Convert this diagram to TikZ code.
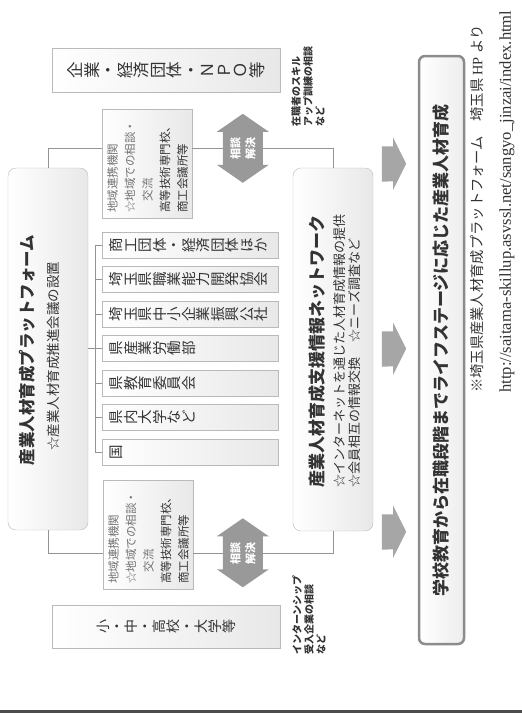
\documentclass[tikz,border=0pt]{standalone}
\usepackage{fontspec}
\usepackage{graphicx}
\setmainfont{Noto Sans CJK JP}
\newfontfamily\serifurl{Liberation Serif}
\newcommand\setfs[2]{\fontsize{#1}{#2}\selectfont}
\newcommand\tc[1]{\rotatebox[origin=c]{90}{\makebox[1em][c]{\rule[-0.12em]{0pt}{1em}#1}}}
\def\tateend{TATEEND}
\newcommand\tate[1]{\tateloop#1\tateend}
\def\tateloop#1{\ifx#1\tateend\else\tc{#1}\expandafter\tateloop\fi}
\begin{document}
\begin{tikzpicture}[x=1pt,y=-1pt,
  rot/.style={rotate=90, inner sep=0, text=black!80},
  gbox/.style={draw=black!27, left color=white, right color=black!9, inner sep=0},
  rbox/.style={gbox, rounded corners=8},
  conn/.style={draw=black!42, line width=0.8},
  stripbox/.style={gbox, anchor=west, minimum width=176, minimum height=26, text width=162, align=left, inner xsep=7, font=\setfs{14.5}{17}, text=black!80}
]
\useasboundingbox (0,0) rectangle (522,713);

% outer boxes
\node[gbox, minimum width=228, minimum height=44, font=\setfs{16.5}{20}, text=black!80] (kigyo) at (166,70) {\tate{企業・経済団体・ＮＰＯ等}};
\node[gbox, minimum width=228, minimum height=43, font=\setfs{14}{17}, text=black!80] (shochu) at (166,626.5) {\tate{小・中・高校・大学等}};

% platform
\node[rbox, minimum width=80, minimum height=362] (plat) at (48,349) {};
\node[rot, font=\setfs{16.5}{20}\bfseries] (platT) at (27,350) {産業人材育成プラットフォーム};
\node[rot, font=\setfs{13.5}{16}] (platS) at (53,356) {☆産業人材育成推進会議の設置};

% regional boxes
\node[gbox, minimum width=90, minimum height=109] (tiA) at (147,163.5) {};
\node[gbox, minimum width=90, minimum height=109] (tiB) at (148,534.5) {};
\node[rot, anchor=west, align=left, font=\setfs{11.5}{17.5}] (tiAt) at (147.5,213) {\textcolor{black!55}{地域連携機関}\\\textcolor{black!55}{☆地域での相談・}\\\textcolor{black!55}{\hspace*{1em}交流}\\高等技術専門校、\\商工会議所等};
\node[rot, anchor=west, align=left, font=\setfs{11.5}{17.5}] (tiBt) at (148.5,584) {\textcolor{black!55}{地域連携機関}\\\textcolor{black!55}{☆地域での相談・}\\\textcolor{black!55}{\hspace*{1em}交流}\\高等技術専門校、\\商工会議所等};

% double arrows
\foreach \n/\cy in {A/148.5, B/553} {
  \node[inner sep=0, minimum width=40, minimum height=33] (arr\n) at (243,\cy) {};
  \fill[black!40] (arr\n.north west) -- ++(-6,0) -- ++(26,-18) -- ++(26,18) -- ++(-6,0)
     -- ++(0,33) -- ++(6,0) -- ++(-26,18) -- ++(-26,-18) -- ++(6,0) -- cycle;
  \node[rot, text=white, align=left, font=\setfs{11}{15}\bfseries] (arrT\n) at (arr\n) {相談\\解決};
}

% strips
\node[stripbox] (s1) at (102,245) {\tate{商工団体・経済団体ほか}};
\node[stripbox] (s2) at (102,279.5) {\tate{埼玉県職業能力開発協会}};
\node[stripbox] (s3) at (102,314) {\tate{埼玉県中小企業振興公社}};
\node[stripbox] (s4) at (102,348.5) {\tate{県産業労働部}};
\node[stripbox] (s5) at (102,383) {\tate{県教育委員会}};
\node[stripbox] (s6) at (102,417.5) {\tate{県内大学など}};
\node[stripbox] (s7) at (102,452) {\tate{国}};
\draw[conn] ([xshift=-7pt]s1.west) -- ([xshift=-7pt]s7.west);
\foreach \i in {1,...,7} \draw[conn] (s\i.west) -- ++(-7,0);
\draw[conn] (plat.east |- s4.west) -- ([xshift=-7pt]s4.west);

% network
\node[rbox, minimum width=80, minimum height=363] (net) at (333,349.5) {};
\node[rot, font=\setfs{17}{20}\bfseries] (netT) at (317,351) {産業人材育成支援情報ネットワーク};
\node[rot, anchor=west, align=left, font=\setfs{13}{15}] (netS) at (347.5,488) {☆インターネットを通じた人材育成情報の提供\\☆会員相互の情報交換\hspace{1.2em}☆ニーズ調査など};

% connectors
\draw[conn] (plat.north) |- (tiA.west |- arrA.center);
\draw[conn] (tiA.east |- arrA.center) -- (arrA.west);
\draw[conn] (arrA.east) -| (net.north);
\draw[conn] (plat.south) |- (tiB.west |- arrB.center);
\draw[conn] (tiB.east |- arrB.center) -- (arrB.west);
\draw[conn] (arrB.east) -| (net.south);

% notes
\node[rot, anchor=north west, align=left, font=\setfs{10}{12}\bfseries] (noteA) at (291,127) {在職者のスキル\\アップ訓練の相談\\など};
\node[rot, anchor=north west, align=left, font=\setfs{10}{12}\bfseries] (noteB) at (292,655) {インターンシップ\\受入企業の相談\\など};

% big arrows
\foreach \n/\cy in {1/164, 2/349, 3/532} {
  \node[inner sep=0, minimum width=11, minimum height=35] (ra\n) at (387.5,\cy) {};
  \fill[black!35] (ra\n.north west) -- (ra\n.north east) -- ++(0,-8.5) -- ++(13,26) -- ++(-13,26) -- ++(0,-8.5) -- (ra\n.south west) -- cycle;
}

% final box
\node[draw=black!45, line width=2.5, rounded corners=6, left color=white, right color=black!7, minimum width=45, minimum height=588, inner sep=0] (final) at (441.5,350) {};
\node[rot, font=\setfs{17}{20}\bfseries] (finalT) at (441.5,350.5) {学校教育から在職段階までライフステージに応じた産業人材育成};

% citation
\node[rot, anchor=west, font=\setfs{14.3}{17}] (cite) at (477,393) {※埼玉県産業人材育成プラットフォーム\hspace{1em}埼玉県 {\serifurl HP} より};
\node[rot, anchor=west, font=\setfs{16.6}{19}\serifurl] (url) at (507,393) {http://saitama-skillup.asvssl.net/sangyo\_jinzai/index.html};

% bottom rule
\draw[line width=2.5, black!70] (0,711.5) -- (522,711.5);
\end{tikzpicture}
\end{document}
